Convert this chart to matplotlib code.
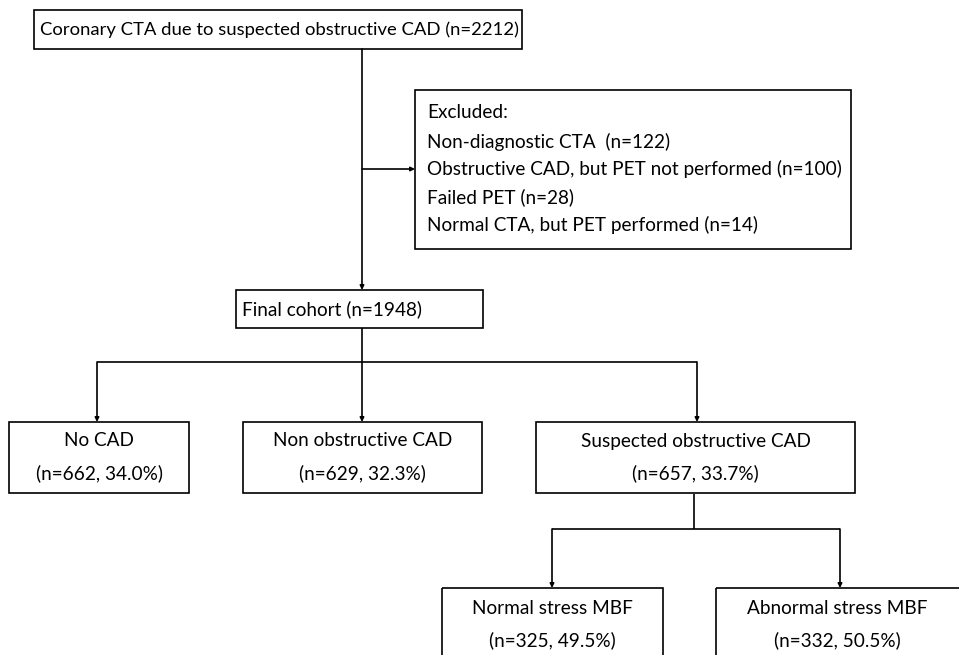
import matplotlib
matplotlib.use("Agg")
import matplotlib.pyplot as plt
from matplotlib.patches import Rectangle

plt.rcParams['font.family'] = ['Lato', 'DejaVu Sans']

# flowchart content
top_label = "Coronary CTA due to suspected obstructive CAD (n=2212)"
excluded_title = "Excluded:"
excluded_items = ["Non-diagnostic CTA  (n=122)",
                  "Obstructive CAD, but PET not performed (n=100)",
                  "Failed PET (n=28)",
                  "Normal CTA, but PET performed (n=14)"]
cohort_label = "Final cohort (n=1948)"
groups = ["No CAD", "Non obstructive CAD", "Suspected obstructive CAD"]
group_n = [662, 629, 657]
group_pct = [34.0, 32.3, 33.7]
mbf = ["Normal stress MBF", "Abnormal stress MBF"]
mbf_n = [325, 332]
mbf_pct = [49.5, 50.5]

FS = 13.7
LW = 1.2

fig = plt.figure(figsize=(9.59, 6.55), dpi=100)
ax = fig.add_axes([0, 0, 1, 1])
ax.set_xlim(0, 959)
ax.set_ylim(655, 0)
ax.axis('off')


def box(x0, y0, x1, y1):
    ax.add_patch(Rectangle((x0, y0), x1 - x0, y1 - y0, fill=False,
                           edgecolor='black', lw=LW, clip_on=False))


def line(xs, ys):
    ax.plot(xs, ys, color='black', lw=LW, solid_capstyle='butt')


def arrow(x0, y0, x1, y1):
    ax.annotate("", xy=(x1, y1), xytext=(x0, y0),
                arrowprops=dict(arrowstyle='-|>', color='black', lw=LW,
                                mutation_scale=6, shrinkA=0, shrinkB=0))


# top box
box(34, 10, 522, 49)
ax.text(40, 30, top_label, fontsize=13.3, va='center', ha='left')

# main trunk
arrow(362, 49, 362, 290)
arrow(362, 169, 415, 169)

# excluded box
box(415, 90, 851, 249)
ex_y = [113, 142, 169, 197, 225]
for yy, s in zip(ex_y, [excluded_title] + excluded_items):
    ax.text(427, yy, s, fontsize=FS, va='center', ha='left')

# final cohort
box(236, 290, 483, 328)
ax.text(242, 309, cohort_label, fontsize=FS, va='center', ha='left')

# split into three groups
line([362, 362], [328, 362])
line([97, 697], [362, 362])
gx = [97, 362, 697]
gbox = [(9, 189), (243, 482), (536, 855)]
for x, (b0, b1), name, n, p in zip(gx, gbox, groups, group_n, group_pct):
    arrow(x, 362, x, 422)
    box(b0, 422, b1, 493)
    cx = (b0 + b1) / 2
    ax.text(cx, 441, name, fontsize=FS, va='center', ha='center')
    ax.text(cx, 473, "(n=%d, %.1f%%)" % (n, p), fontsize=FS, va='center', ha='center')

# split suspected obstructive
line([694, 694], [494, 529])
line([552, 840], [529, 529])
mx = [552, 840]
mbox = [(442, 663), (716, 975)]
for x, (b0, b1), name, n, p in zip(mx, mbox, mbf, mbf_n, mbf_pct):
    arrow(x, 529, x, 588)
    box(b0, 588, b1, 670)
    cx = (b0 + b1) / 2 if b1 < 959 else 837
    ax.text(cx, 609, name, fontsize=FS, va='center', ha='center')
    ax.text(cx, 640, "(n=%d, %.1f%%)" % (n, p), fontsize=FS, va='center', ha='center')

fig.savefig("out.png", dpi=100)
